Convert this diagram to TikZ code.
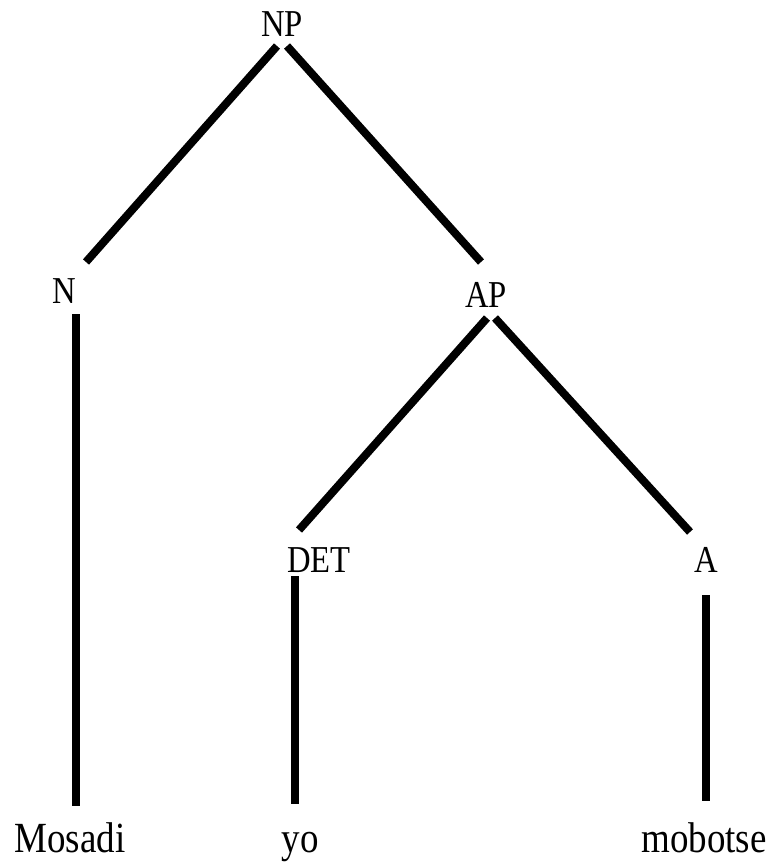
\documentclass[tikz,border=0pt]{standalone}
\usepackage{fontspec}
\setmainfont{Liberation Serif}
\begin{document}
\begin{tikzpicture}[x=1pt,y=-1pt,
  lab/.style={anchor=base,inner sep=0pt,font=\fontsize{38}{40}\selectfont},
  leaf/.style={anchor=base,inner sep=0pt,font=\fontsize{43}{45}\selectfont},
  branch/.style={line width=8pt,black}]
\fill[white] (0,0) rectangle (769,862);
\useasboundingbox (0,0) rectangle (769,862);
% labels
\node[lab] (np) at (282,36) {\scalebox{0.86}[1]{NP}};
\node[lab] (n) at (64,303) {\scalebox{0.86}[1]{N}};
\node[lab] (ap) at (486,307) {\scalebox{0.86}[1]{AP}};
\node[lab] (det) at (319,572) {\scalebox{0.86}[1]{DET}};
\node[lab] (a) at (706,572) {\scalebox{0.86}[1]{A}};
\node[leaf] (mosadi) at (70,852) {\scalebox{0.86}[1]{Mosadi}};
\node[leaf] (yo) at (300,852) {\scalebox{0.86}[1]{yo}};
\node[leaf] (mobotse) at (704,852) {\scalebox{0.86}[1]{mobotse}};
% connector ends
\coordinate (npL) at (277,46);
\coordinate (npR) at (287,46);
\coordinate (nT) at (86,262);
\coordinate (apT) at (481,262);
\coordinate (nB) at (76,314);
\coordinate (mosT) at (76,806);
\coordinate (apL) at (487,318);
\coordinate (apR) at (495,318);
\coordinate (detT) at (299,530);
\coordinate (aT) at (690,532);
\coordinate (detB) at (295,576);
\coordinate (yoT) at (295,804);
\coordinate (aB) at (706,595);
\coordinate (mobT) at (706,801);
\draw[branch] (npL) -- (nT);
\draw[branch] (npR) -- (apT);
\draw[branch] (nB) -- (mosT);
\draw[branch] (apL) -- (detT);
\draw[branch] (apR) -- (aT);
\draw[branch] (detB) -- (yoT);
\draw[branch] (aB) -- (mobT);
\end{tikzpicture}
\end{document}
